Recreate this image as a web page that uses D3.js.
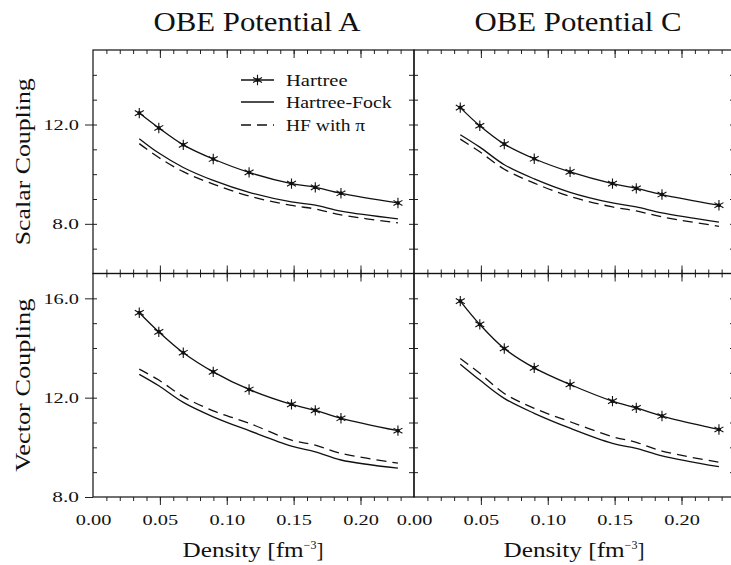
<!DOCTYPE html>
<html>
<head>
<meta charset="utf-8">
<script src="https://cdn.jsdelivr.net/npm/d3@7"></script>
<style>
  body { margin: 0; background: #fff; }
  text { font-family: "Liberation Serif", "DejaVu Serif", serif; fill: #111; }
  .tick line { stroke: #222; stroke-width: 1; }
</style>
</head>
<body>
<svg id="chart" width="731" height="565"></svg>
<script>
// density points (fm^-3), kF = 0.8 ... 1.5
const density = [0.0346, 0.0492, 0.0675, 0.0899, 0.1167, 0.1484, 0.1662, 0.1854, 0.2280];

// Scalar coupling, potential A
const scalarA_H    = [12.46, 11.86, 11.18, 10.61, 10.07, 9.62, 9.47, 9.23, 8.84];
const scalarA_HF   = [11.43, 10.85, 10.27, 9.75, 9.27, 8.88, 8.75, 8.51, 8.20];
const scalarA_HFpi = [11.23, 10.67, 10.10, 9.60, 9.12, 8.74, 8.60, 8.36, 8.04];
// Scalar coupling, potential C
const scalarC_H    = [12.68, 11.95, 11.21, 10.62, 10.09, 9.62, 9.43, 9.18, 8.75];
const scalarC_HF   = [11.59, 11.09, 10.38, 9.81, 9.27, 8.84, 8.68, 8.44, 8.07];
const scalarC_HFpi = [11.41, 10.90, 10.20, 9.64, 9.10, 8.68, 8.52, 8.28, 7.90];
// Vector coupling, potential A
const vectorA_H    = [15.42, 14.65, 13.81, 13.04, 12.33, 11.73, 11.49, 11.17, 10.67];
const vectorA_HF   = [12.94, 12.48, 11.81, 11.23, 10.67, 10.05, 9.82, 9.49, 9.16];
const vectorA_HFpi = [13.15, 12.71, 12.04, 11.47, 10.97, 10.29, 10.09, 9.76, 9.36];
// Vector coupling, potential C
const vectorC_H    = [15.89, 14.95, 13.98, 13.20, 12.53, 11.86, 11.59, 11.26, 10.72];
const vectorC_HF   = [13.35, 12.71, 11.97, 11.37, 10.77, 10.16, 9.96, 9.66, 9.22];
const vectorC_HFpi = [13.58, 12.98, 12.17, 11.57, 11.03, 10.43, 10.20, 9.85, 9.40];

const columnTitles = ["OBE Potential A", "OBE Potential C"];
const rowTitles = ["Scalar Coupling", "Vector Coupling"];
const legendLabels = ["Hartree", "Hartree-Fock", "HF with \u03c0"];
const xTickLabels = [0, 0.05, 0.10, 0.15, 0.20];
const yDomains = [[6, 15], [8, 17]];
const yLabelTicks = [[8, 12], [8, 12, 16]];

const svg = d3.select("#chart");
const left0 = 93, panelW = 321, top0 = 50, panelH = 223.5;
const fmt2 = d3.format(".2f"), fmt1 = d3.format(".1f");

const series = [
  [[scalarA_H, scalarA_HF, scalarA_HFpi], [scalarC_H, scalarC_HF, scalarC_HFpi]],
  [[vectorA_H, vectorA_HF, vectorA_HFpi], [vectorC_H, vectorC_HF, vectorC_HFpi]]
];

// monospace-like look: stretch every label to a fixed width per character
function mono(sel, perChar) {
  sel.each(function () {
    const n = this.textContent.length;
    d3.select(this).attr("textLength", n * perChar).attr("lengthAdjust", "spacingAndGlyphs");
  });
}

const star = d3.symbol().type(d3.symbolAsterisk).size(75);

function drawMarker(g, x, y) {
  g.append("path").attr("transform", `translate(${x},${y})`)
    .attr("d", star()).attr("fill", "none").attr("stroke", "#111").attr("stroke-width", 1.1);
  g.append("circle").attr("cx", x).attr("cy", y).attr("r", 2).attr("fill", "#111");
}

for (let r = 0; r < 2; r++) {
  for (let c = 0; c < 2; c++) {
    const x0 = left0 + c * panelW, y0 = top0 + r * panelH;
    const x = d3.scaleLinear().domain([0, 0.24]).range([x0, x0 + panelW]);
    const y = d3.scaleLinear().domain(yDomains[r]).range([y0 + panelH, y0]);
    const g = svg.append("g");

    const minorX = d3.range(1, 24).map(i => i / 100);
    const majorX = [0.05, 0.10, 0.15, 0.20];
    const minorY = d3.range(yDomains[r][0] + 1, yDomains[r][1]);

    const noDomain = sel => sel.select(".domain").remove();

    // top ticks (inward)
    g.append("g").attr("transform", `translate(0,${y0})`)
      .call(d3.axisBottom(x).tickValues(minorX).tickSize(4).tickFormat("")).call(noDomain);
    g.append("g").attr("transform", `translate(0,${y0})`)
      .call(d3.axisBottom(x).tickValues(majorX).tickSize(8).tickFormat("")).call(noDomain);
    // bottom ticks
    const yb = y0 + panelH;
    const bAxis = r === 0 ? d3.axisTop : d3.axisBottom;
    g.append("g").attr("transform", `translate(0,${yb})`)
      .call(bAxis(x).tickValues(minorX).tickSize(4).tickFormat("")).call(noDomain);
    g.append("g").attr("transform", `translate(0,${yb})`)
      .call(bAxis(x).tickValues(majorX).tickSize(8).tickFormat("")).call(noDomain);
    if (r === 1) {
      g.append("g").attr("transform", `translate(0,${yb})`)
        .call(d3.axisBottom(x).tickValues(xTickLabels).tickSize(0).tickPadding(17).tickFormat(fmt2))
        .call(noDomain)
        .selectAll("text").style("font-size", "15px")
        .style("font-family", "'Liberation Serif', serif").call(mono, 8.9);
    }

    // left ticks (inward minor)
    g.append("g").attr("transform", `translate(${x0},0)`)
      .call(d3.axisRight(y).tickValues(minorY).tickSize(4).tickFormat("")).call(noDomain);
    // right ticks (inward)
    g.append("g").attr("transform", `translate(${x0 + panelW},0)`)
      .call(d3.axisLeft(y).tickValues(minorY).tickSize(5).tickFormat("")).call(noDomain);
    if (c === 0) {
      g.append("g").attr("transform", `translate(${x0},0)`)
        .call(d3.axisLeft(y).tickValues(yLabelTicks[r]).tickSize(8).tickPadding(6).tickFormat(fmt1))
        .call(noDomain)
        .selectAll("text").style("font-size", "15px")
        .style("font-family", "'Liberation Serif', serif").call(mono, 8.9);
    }

    // frame
    g.append("rect").attr("x", x0).attr("y", y0).attr("width", panelW).attr("height", panelH)
      .attr("fill", "none").attr("stroke", "#111").attr("stroke-width", 1.2);

    // curves
    const line = d3.line().x((d, i) => x(density[i])).y(d => y(d)).curve(d3.curveCatmullRom.alpha(0.5));
    const [hv, hf, hfpi] = series[r][c];
    g.append("path").attr("d", line(hv)).attr("fill", "none").attr("stroke", "#111").attr("stroke-width", 1.3);
    g.append("path").attr("d", line(hf)).attr("fill", "none").attr("stroke", "#111").attr("stroke-width", 1.3);
    g.append("path").attr("d", line(hfpi)).attr("fill", "none").attr("stroke", "#111").attr("stroke-width", 1.3)
      .attr("stroke-dasharray", "10,6");
    hv.forEach((v, i) => drawMarker(g, x(density[i]), y(v)));

    if (r === 0) {
      svg.append("text").attr("x", x0 + 164).attr("y", 31).attr("text-anchor", "middle")
        .attr("textLength", 207).attr("lengthAdjust", "spacingAndGlyphs")
        .style("font-size", "27px").text(columnTitles[c]);
    }
    if (r === 1) {
      const t = svg.append("text").attr("x", x0 + 160).attr("y", 557).attr("text-anchor", "middle")
        .style("font-size", "21px");
      t.append("tspan").text("Density [fm").call(mono, 11);
      t.append("tspan").attr("dy", -8).style("font-size", "12px").text("\u22123");
      t.append("tspan").attr("dy", 8).text("]");
    }
    if (c === 0) {
      svg.append("text").attr("transform", `translate(30,${y0 + panelH / 2}) rotate(-90)`)
        .attr("text-anchor", "middle").style("font-size", "21px")
        .attr("textLength", r === 0 ? 167 : 173).attr("lengthAdjust", "spacingAndGlyphs")
        .text(rowTitles[r]);
    }
  }
}

// legend (top-left panel)
const lg = svg.append("g");
const legendY = [80, 102, 125];
legendY.forEach((ly, i) => {
  const ln = lg.append("line").attr("x1", 241).attr("x2", 274).attr("y1", ly).attr("y2", ly)
    .attr("stroke", "#111").attr("stroke-width", 1.3);
  if (i === 2) ln.attr("stroke-dasharray", "10,6");
  if (i === 0) drawMarker(lg, 257.5, ly);
  lg.append("text").attr("x", 286).attr("y", ly + 6).style("font-size", "16px")
    .text(legendLabels[i]).call(mono, 8.8);
});
</script>
</body>
</html>
